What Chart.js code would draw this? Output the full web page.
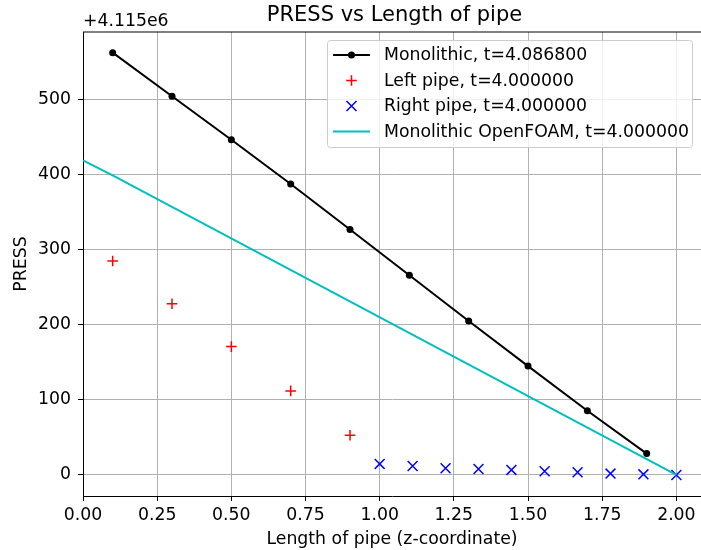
<!DOCTYPE html>
<html>
<head>
<meta charset="utf-8">
<script src="https://cdn.jsdelivr.net/npm/chart.js@4/dist/chart.umd.min.js"></script>
<style>
  html, body { margin: 0; padding: 0; overflow: hidden; background: #fff; }
  canvas { display: block; }
</style>
</head>
<body>
<canvas id="c" width="701" height="550" style="width:701px;height:550px"></canvas>
<script>
// Pressure values are offsets from OFFSET (+4.115e6)
const OFFSET = 4115000;
const OFFSET_LABEL = '+4.115e6';
const TITLE = 'PRESS vs Length of pipe';
const X_LABEL = 'Length of pipe (z-coordinate)';
const Y_LABEL = 'PRESS';

const monoZ = [0.1, 0.3, 0.5, 0.7, 0.9, 1.1, 1.3, 1.5, 1.7, 1.9];
const monoP = [562.5, 504.5, 446.5, 387.5, 327, 266, 205, 145, 85.5, 28.5];

const leftZ = [0.1, 0.3, 0.5, 0.7, 0.9];
const leftP = [285, 228, 171, 112, 53];

const rightZ = [1.0, 1.111, 1.222, 1.333, 1.444, 1.556, 1.667, 1.778, 1.889, 2.0];
const rightP = [14.7, 12, 9, 8, 6.7, 5, 3.6, 1.9, 0.9, 0];

const foamZ = [0.0, 0.1, 2.0];
const foamP = [419, 399, 0];

const legendLabels = [
  'Monolithic, t=4.086800',
  'Left pipe, t=4.000000',
  'Right pipe, t=4.000000',
  'Monolithic OpenFOAM, t=4.000000'
];

const xTicks = [0, 0.25, 0.5, 0.75, 1.0, 1.25, 1.5, 1.75, 2.0];
const yTicks = [0, 100, 200, 300, 400, 500];

const FONT = "'DejaVu Sans', sans-serif";
const TICK_SIZE = 17.3;
const LABEL_SIZE = 17.3;
const TITLE_SIZE = 21;
const pts = (xs, ys) => xs.map((x, i) => ({ x: x, y: ys[i] }));

const COLORS = { mono: '#000000', left: '#ff0000', right: '#0000ff', foam: '#00bfbf' };

const decorPlugin = {
  id: 'decor',
  afterDraw(chart) {
    const ctx = chart.ctx;
    const a = chart.chartArea;
    ctx.save();
    // top spine (right spine lies outside the picture)
    ctx.strokeStyle = '#000';
    ctx.lineWidth = 1.1;
    ctx.beginPath();
    ctx.moveTo(a.left, a.top); ctx.lineTo(a.right, a.top);
    ctx.stroke();
    // title
    ctx.fillStyle = '#000';
    ctx.font = TITLE_SIZE + 'px ' + FONT;
    ctx.textAlign = 'center';
    ctx.textBaseline = 'middle';
    ctx.fillText(TITLE, 394.5, 15.5);
    // offset text
    ctx.font = LABEL_SIZE + 'px ' + FONT;
    ctx.textAlign = 'left';
    ctx.fillText(OFFSET_LABEL, a.left, 22);

    // legend
    const bx = 327.5, by = 40.5, bw = 365, bh = 107;
    ctx.beginPath();
    ctx.roundRect(bx, by, bw, bh, 3);
    ctx.fillStyle = 'rgba(255,255,255,0.8)';
    ctx.fill();
    ctx.strokeStyle = '#cccccc';
    ctx.lineWidth = 1;
    ctx.stroke();

    const rows = [55, 80.5, 106, 131.5];
    const hx0 = 333, hx1 = 370, hm = 351.5, tx = 384;
    // mono
    ctx.strokeStyle = COLORS.mono; ctx.lineWidth = 2;
    ctx.beginPath(); ctx.moveTo(hx0, rows[0]); ctx.lineTo(hx1, rows[0]); ctx.stroke();
    ctx.fillStyle = COLORS.mono;
    ctx.beginPath(); ctx.arc(hm, rows[0], 3.5, 0, Math.PI * 2); ctx.fill();
    // left +
    ctx.strokeStyle = COLORS.left; ctx.lineWidth = 1.5;
    ctx.beginPath();
    ctx.moveTo(hm - 5.3, rows[1]); ctx.lineTo(hm + 5.3, rows[1]);
    ctx.moveTo(hm, rows[1] - 5.3); ctx.lineTo(hm, rows[1] + 5.3);
    ctx.stroke();
    // right x
    ctx.strokeStyle = COLORS.right;
    const d = 5;
    ctx.beginPath();
    ctx.moveTo(hm - d, rows[2] - d); ctx.lineTo(hm + d, rows[2] + d);
    ctx.moveTo(hm - d, rows[2] + d); ctx.lineTo(hm + d, rows[2] - d);
    ctx.stroke();
    // foam
    ctx.strokeStyle = COLORS.foam; ctx.lineWidth = 2;
    ctx.beginPath(); ctx.moveTo(hx0, rows[3]); ctx.lineTo(hx1, rows[3]); ctx.stroke();

    ctx.fillStyle = '#000';
    ctx.font = LABEL_SIZE + 'px ' + FONT;
    ctx.textAlign = 'left';
    ctx.textBaseline = 'middle';
    legendLabels.forEach((t, i) => ctx.fillText(t, tx, rows[i] + 1));
    ctx.restore();
  }
};

new Chart(document.getElementById('c'), {
  type: 'scatter',
  data: {
    datasets: [
      {
        label: legendLabels[0], data: pts(monoZ, monoP), order: 3,
        showLine: true, borderColor: COLORS.mono, backgroundColor: COLORS.mono,
        borderWidth: 2, pointRadius: 3.5, pointBorderWidth: 0, pointStyle: 'circle'
      },
      {
        label: legendLabels[1], data: pts(leftZ, leftP), order: 2,
        showLine: false, borderColor: COLORS.left, backgroundColor: COLORS.left,
        pointStyle: 'cross', pointRadius: 5.3, pointBorderWidth: 1.5
      },
      {
        label: legendLabels[2], data: pts(rightZ, rightP), order: 1,
        showLine: false, borderColor: COLORS.right, backgroundColor: COLORS.right,
        pointStyle: 'crossRot', pointRadius: 7, pointBorderWidth: 1.5
      },
      {
        label: legendLabels[3], data: pts(foamZ, foamP), order: 0,
        showLine: true, borderColor: COLORS.foam, backgroundColor: COLORS.foam,
        borderWidth: 2, pointRadius: 0
      }
    ]
  },
  options: {
    responsive: false,
    animation: false,
    devicePixelRatio: 1,
    layout: { autoPadding: false, padding: { top: 32, right: 0, left: 0, bottom: 0 } },
    plugins: { legend: { display: false }, tooltip: { enabled: false }, title: { display: false } },
    scales: {
      x: {
        type: 'linear', min: 0, max: 2.083,
        afterFit(s) { s.height = 54; s.paddingLeft = 0; s.paddingRight = 0; },
        afterBuildTicks(s) { s.ticks = xTicks.map(v => ({ value: v })); },
        ticks: {
          color: '#000', font: { family: FONT, size: TICK_SIZE }, padding: 4,
          maxRotation: 0, autoSkip: false,
          callback: v => Number(v).toFixed(2)
        },
        grid: { color: '#b0b0b0', lineWidth: 1, tickColor: '#000', tickLength: 5, drawTicks: true },
        border: { color: '#000', width: 1 },
        title: { display: true, text: X_LABEL, color: '#000', font: { family: FONT, size: LABEL_SIZE }, padding: { top: 0, bottom: 0 } }
      },
      y: {
        type: 'linear', min: -28, max: 590,
        afterFit(s) { s.width = 83; s.paddingTop = 0; s.paddingBottom = 0; },
        afterBuildTicks(s) { s.ticks = yTicks.map(v => ({ value: v })); },
        ticks: {
          color: '#000', font: { family: FONT, size: TICK_SIZE }, padding: 7,
          autoSkip: false,
          callback: v => String(Math.round(v))
        },
        grid: { color: '#b0b0b0', lineWidth: 1, tickColor: '#000', tickLength: 5, drawTicks: true },
        border: { color: '#000', width: 1 },
        title: { display: true, text: Y_LABEL, color: '#000', font: { family: FONT, size: LABEL_SIZE }, padding: { top: 11.5, bottom: 0 } }
      }
    }
  },
  plugins: [decorPlugin]
});
</script>
</body>
</html>
